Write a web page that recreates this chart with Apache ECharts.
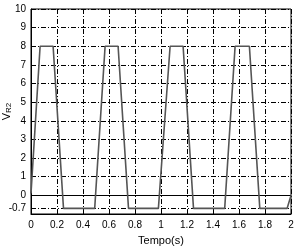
<!DOCTYPE html>
<html>
<head>
<meta charset="utf-8">
<script src="https://cdn.jsdelivr.net/npm/echarts@6/dist/echarts.min.js"></script>
<style>html,body{margin:0;padding:0;background:#fff}#c{width:299px;height:247px}</style>
</head>
<body>
<div id="c"></div>
<script>
const timeS = [0, 0.07, 0.17, 0.25, 0.49, 0.57, 0.67, 0.75, 0.98, 1.07, 1.17, 1.25, 1.49, 1.57, 1.68, 1.76, 1.97, 2.0];
const vR2 =   [0.1, 8, 8, -0.7, -0.7, 8, 8, -0.7, -0.7, 8, 8, -0.7, -0.7, 8, 8, -0.7, -0.7, 0];
const yTickLabels = [-0.7, 0, 1, 2, 3, 4, 5, 6, 7, 8, 9, 10];
const xTicks = [0, 0.2, 0.4, 0.6, 0.8, 1, 1.2, 1.4, 1.6, 1.8, 2];

const FONT = 'Liberation Sans, Arial, sans-serif';
const gridDash = { color: '#000', width: 1, type: [5, 2, 1, 2] };
const chart = echarts.init(document.getElementById('c'), null, { renderer: 'canvas' });
chart.setOption({
  animation: false,
  backgroundColor: '#fff',
  grid: { left: 31, right: 8, top: 9, bottom: 33, containLabel: false, outerBoundsMode: 'none',
    show: true, borderColor: '#000', borderWidth: 1, backgroundColor: 'transparent' },
  xAxis: [{
    type: 'value', min: 0, max: 2, interval: 0.2,
    name: 'Tempo(s)', nameLocation: 'middle', nameGap: 21, nameMoveOverlap: false,
    nameTextStyle: { fontFamily: FONT, fontSize: 11, color: '#000' },
    axisLine: { onZero: false, lineStyle: { color: '#000' } },
    axisTick: { inside: true, length: 3, lineStyle: { color: '#000' } },
    axisLabel: { fontFamily: FONT, fontSize: 10, color: '#000', margin: 6,
      customValues: xTicks, formatter: v => String(+v.toFixed(1)) },
    splitLine: { show: true, lineStyle: gridDash }
  }],
  yAxis: [{
    type: 'value', min: -1, max: 10, interval: 1,
    name: '{v|V}{s|R2}', nameLocation: 'middle', nameGap: 18, nameRotate: 90, nameMoveOverlap: false,
    nameTextStyle: { fontFamily: FONT, color: '#000',
      rich: { v: { fontSize: 11, fontFamily: FONT, color: '#000' }, s: { fontSize: 8, fontFamily: FONT, color: '#000', padding: [5, 0, 0, 0] } } },
    axisLine: { lineStyle: { color: '#000' } },
    axisTick: { inside: true, length: 3, customValues: yTickLabels, lineStyle: { color: '#000' } },
    axisLabel: { fontFamily: FONT, fontSize: 10, color: '#000', margin: 5, customValues: yTickLabels,
      formatter: v => String(v) },
    splitLine: { show: true, lineStyle: gridDash }
  }],
  series: [{
    type: 'line',
    data: timeS.map((t, i) => [t, vR2[i]]),
    symbol: 'none',
    lineStyle: { color: '#555', width: 1.6 },
    markLine: {
      silent: true, symbol: 'none', label: { show: false },
      data: [
        { yAxis: -0.7, lineStyle: gridDash },
        { yAxis: 0, lineStyle: { color: '#000', width: 1, type: 'solid' } }
      ]
    },
    z: 5
  }]
});
</script>
</body>
</html>
